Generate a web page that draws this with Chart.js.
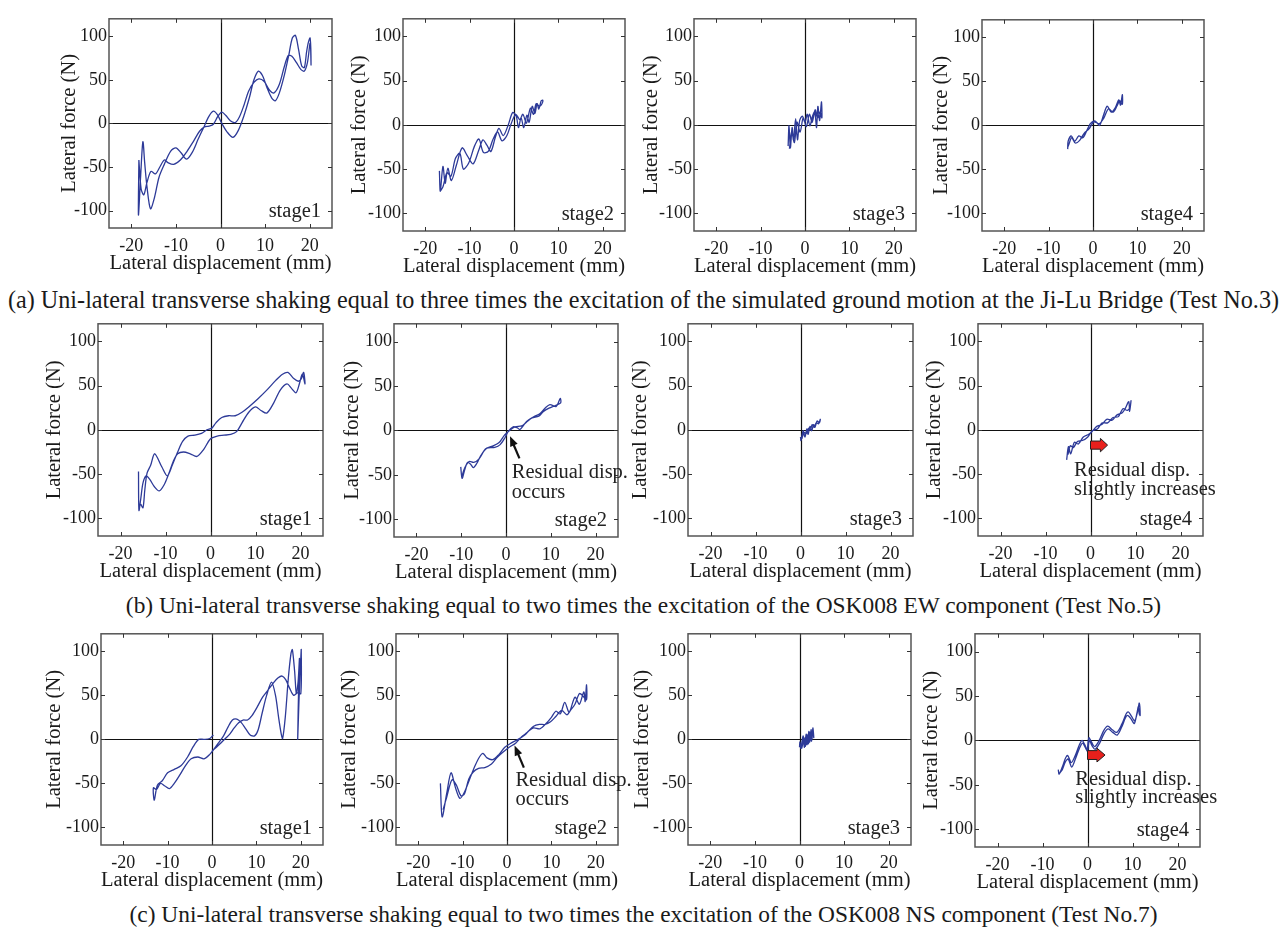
<!DOCTYPE html>
<html>
<head>
<meta charset="utf-8">
<script src="https://cdn.jsdelivr.net/npm/chart.js@4.4.1/dist/chart.umd.min.js"></script>
<style>
  body { margin: 0; background: #fff; }
  #fig { position: relative; width: 1287px; height: 934px; overflow: hidden; background: #fff; }
  .caption { position: absolute; left: 0; width: 1287px; text-align: center; white-space: nowrap;
             font-family: "Liberation Serif", "Times New Roman", serif; font-size: 23.4px; color: #1a1a1a; }
</style>
</head>
<body>
<div id="fig">
  <div class="caption" style="top:286px;font-size:24.2px">(a) Uni-lateral transverse shaking equal to three times the excitation of the simulated ground motion at the Ji-Lu Bridge (Test No.3)</div>
  <div class="caption" style="top:592px">(b) Uni-lateral transverse shaking equal to two times the excitation of the OSK008 EW component (Test No.5)</div>
  <div class="caption" style="top:901px">(c) Uni-lateral transverse shaking equal to two times the excitation of the OSK008 NS component (Test No.7)</div>
</div>
<script>
const SERIF = '"Liberation Serif", "Times New Roman", serif';
const LINE_COLOR = '#2d3a98';

// axis ticks shared by every panel
const dispTicks = [-20, -10, 0, 10, 20];
const forceTicks = [-100, -50, 0, 50, 100];
const stageNames = ['stage1', 'stage2', 'stage3', 'stage4'];

// Test No.3 loops, [displacement mm, force N]
const test3Stage1 = [[-18.3,-42],[-18.4,-105],[-17.9,-60],[-17.4,-21],[-17.0,-45],[-16.5,-72],[-15.7,-98],[-14.8,-85],[-13.8,-62],[-12.6,-47],[-11.2,-32],[-10.0,-28],[-8.8,-34],[-7.6,-41],[-6.3,-33],[-5.0,-18],[-3.8,-5],[-2.6,8],[-1.6,14],[-0.7,10],[0.3,0],[1.5,-10],[2.8,-16],[4.0,-8],[5.2,8],[6.5,30],[7.5,50],[8.5,60],[9.4,55],[10.5,40],[11.5,29],[12.3,26],[13.2,35],[14.3,55],[15.3,78],[16.1,98],[16.8,101],[17.5,85],[18.2,66],[18.8,64],[19.3,82],[19.7,93],[20.1,98],[20.3,67],
  [20.1,92],[19.5,70],[18.8,60],[18.0,62],[17.0,70],[16.0,77],[15.2,78],[14.3,65],[13.2,45],[12.0,35],[11.0,38],[9.8,48],[8.6,51],[7.5,47],[6.3,37],[5.2,20],[4.2,7],[3.3,1],[2.2,3],[1.2,9],[0.3,13],[-0.6,8],[-1.6,-1],[-2.6,-3],[-3.6,-4],[-4.7,-9],[-6.0,-20],[-7.5,-32],[-9.0,-42],[-10.5,-47],[-11.8,-45],[-12.6,-42],[-13.6,-50],[-14.6,-58],[-15.6,-55],[-16.5,-68],[-17.2,-82],[-17.8,-75],[-18.3,-42]];
const test3Stage2 = [[-16.8,-52],[-16.6,-75],[-16.0,-47],[-15.5,-66],[-14.9,-49],[-14.1,-63],[-13.0,-46],[-11.7,-26],[-10.5,-35],[-9.2,-44],[-7.9,-28],[-7.0,-17],[-6.1,-23],[-5.2,-30],[-4.2,-14],[-3.4,-4],[-2.4,-12],[-1.3,0],[-0.3,14],[0.5,10],[1.0,-3],[1.6,8],[2.2,-3],[2.9,11],[3.4,3],[4.1,21],[4.7,13],[5.2,24],[5.6,18],[6.1,27],[6.5,28],
  [6.3,24],[5.8,21],[5.0,24],[4.4,12],[3.7,19],[2.8,2],[2.0,12],[1.3,6],[0.4,12],[-0.6,2],[-1.6,-12],[-2.7,-18],[-3.7,-8],[-4.7,-16],[-5.8,-30],[-6.9,-31],[-7.9,-16],[-8.9,-24],[-10.2,-43],[-11.4,-50],[-12.2,-32],[-13.2,-38],[-14.2,-58],[-15.1,-54],[-16.0,-70],[-16.6,-75]];
const test3Stage3 = [[-3.8,-24],[-3.6,-1],[-3.3,-26],[-2.9,-3],[-2.6,-17],[-2.1,7],[-1.7,-17],[-1.2,5],[-0.6,10],[0.0,3],[0.5,12],[1.1,-1],[1.7,10],[2.2,15],[2.6,-3],[2.9,21],[3.3,5],[3.7,26],[3.8,8],
  [3.4,15],[2.8,8],[2.3,17],[1.6,3],[1.0,12],[0.3,-2],[-0.4,8],[-1.1,-8],[-1.8,3],[-2.4,-20],[-3.0,-8],[-3.5,-27]];
const test3Stage4 = [[-5.7,-27],[-5.6,-18],[-4.9,-12],[-4.1,-18],[-3.2,-12],[-2.3,-14],[-1.4,-6],[-0.6,2],[0.3,5],[0.9,3],[1.5,0],[2.4,12],[3.2,22],[4.1,15],[5.0,20],[5.8,29],[6.2,23],[6.6,35],
  [6.6,24],[6.0,28],[5.4,22],[4.5,15],[3.5,19],[2.4,8],[1.4,2],[0.2,4],[-0.9,-4],[-2.0,-9],[-3.0,-17],[-4.0,-20],[-4.8,-14],[-5.4,-21],[-5.7,-25]];

// Test No.5 loops
const test5Stage1 = [[-16.0,-47],[-15.9,-91],[-15.5,-78],[-15.0,-60],[-14.3,-52],[-13.5,-56],[-12.5,-64],[-11.4,-69],[-10.3,-62],[-9.3,-50],[-8.3,-36],[-7.3,-27],[-6.0,-25],[-4.5,-27],[-3.0,-30],[-1.5,-22],[0.0,-10],[1.5,-7],[3.0,-6],[4.5,-5],[5.8,-2],[7.0,8],[8.5,20],[10.0,26],[11.2,22],[12.5,19],[14.0,30],[15.5,45],[17.0,52],[18.0,47],[19.0,42],[19.8,53],[20.4,63],[21.0,52],
  [20.7,65],[20.2,58],[19.5,55],[18.5,58],[17.2,65],[16.0,63],[14.5,56],[12.5,45],[10.5,35],[8.5,26],[7.0,20],[5.5,16],[4.0,16],[2.5,14],[1.2,8],[0.3,2],[-0.8,0],[-2.0,-4],[-3.5,-6],[-5.0,-7],[-6.2,-13],[-7.3,-25],[-8.5,-40],[-9.6,-52],[-10.8,-42],[-12.4,-27],[-13.3,-40],[-14.1,-49],[-14.6,-68],[-15.0,-88],[-15.5,-84]];
const test5Stage2 = [[-10.1,-41],[-9.8,-54],[-9.2,-44],[-8.6,-36],[-7.9,-38],[-7.3,-42],[-6.5,-37],[-5.8,-30],[-4.3,-20],[-2.5,-19],[-1.3,-16],[-0.2,-8],[0.5,-1],[1.6,4],[2.5,3],[3.1,1],[4.6,10],[6.1,15],[7.6,19],[8.7,25],[9.8,29],[11.2,27],[12.1,36],[12.2,31],
  [11.0,28],[9.6,25],[8.3,21],[7.3,16],[5.8,14],[4.5,9],[3.5,5],[2.0,4],[0.8,0],[-0.3,-5],[-1.6,-14],[-3.2,-18],[-4.6,-21],[-6.0,-32],[-7.2,-36],[-8.2,-35],[-9.2,-42],[-9.8,-51]];
const test5Stage3 = [[0.0,-8],[0.1,-12],[0.6,-1],[1.0,-8],[1.4,1],[1.7,-5],[2.1,4],[2.5,-1],[2.9,6],[3.2,3],[3.7,10],[4.2,8],[4.4,12],
  [4.0,7],[3.5,8],[3.0,3],[2.6,6],[2.2,0],[1.8,2],[1.3,-4],[0.8,-3],[0.3,-10]];
const test5Stage4 = [[-5.3,-34],[-4.9,-19],[-4.4,-27],[-3.6,-14],[-2.7,-16],[-1.6,-8],[-0.4,-5],[0.3,-2],[1.4,4],[2.5,6],[3.6,12],[4.8,11],[5.9,17],[7.0,19],[7.7,24],[8.5,32],[8.7,21],[9.0,33],
  [8.8,26],[8.2,22],[7.2,24],[6.2,15],[5.0,14],[3.8,8],[2.6,8],[1.5,1],[0.4,-1],[-0.6,-8],[-1.8,-12],[-2.9,-13],[-3.8,-20],[-4.5,-18],[-5.0,-28]];

// Test No.7 loops
const test7Stage1 = [[0.3,5],[-0.5,1],[-1.8,0],[-3.0,0],[-4.2,-8],[-5.5,-20],[-7.0,-30],[-8.5,-34],[-10.0,-38],[-11.2,-47],[-12.3,-52],[-13.0,-69],[-13.2,-55],[-12.5,-57],[-11.6,-50],[-10.6,-53],[-9.6,-56],[-8.5,-50],[-7.2,-40],[-6.0,-30],[-4.7,-22],[-3.2,-20],[-1.8,-22],[-0.5,-17],[0.6,-10],[1.6,-3],[2.6,4],[3.6,14],[4.6,22],[5.6,23],[6.6,19],[7.6,12],[8.6,5],[9.6,4],[10.4,11],[11.3,30],[12.3,50],[13.4,65],[14.3,50],[15.0,25],[15.6,6],[15.9,1],[16.5,25],[17.2,70],[17.8,98],[18.1,102],[18.6,78],[19.0,52],[19.4,66],[19.7,92],[19.5,55],[19.3,0],[19.6,45],[20.0,92],[20.1,102],[20.0,52],
  [19.2,53],[18.4,50],[17.5,58],[16.6,68],[15.8,72],[14.9,70],[13.8,64],[12.6,56],[11.4,48],[10.2,37],[9.0,27],[8.0,22],[7.0,22],[6.0,19],[5.0,13],[4.0,6],[3.0,1],[2.0,-4],[1.0,-9],[0.0,-13]];
const test7Stage2 = [[-15.0,-50],[-14.6,-88],[-13.6,-62],[-12.6,-38],[-11.6,-55],[-10.6,-67],[-9.6,-60],[-8.4,-45],[-7.2,-30],[-6.2,-20],[-5.4,-16],[-4.5,-21],[-3.2,-23],[-1.8,-17],[-0.5,-9],[1.0,-4],[2.5,0],[4.0,5],[5.0,10],[6.0,13],[7.4,12],[8.8,18],[10.0,25],[11.0,32],[12.0,29],[13.0,42],[14.0,31],[15.3,48],[16.3,40],[17.3,54],[17.6,43],[17.9,62],[17.9,45],
  [17.0,50],[16.3,52],[15.3,40],[14.3,33],[13.5,28],[12.3,33],[11.0,26],[9.8,20],[8.6,17],[7.3,17],[6.0,15],[4.6,8],[3.3,3],[2.0,-4],[0.5,-9],[-1.0,-15],[-2.3,-21],[-3.5,-28],[-5.0,-32],[-6.4,-33],[-7.6,-37],[-8.6,-45],[-9.6,-62],[-10.4,-64],[-11.4,-52],[-12.4,-46],[-13.6,-66],[-14.4,-80]];
const test7Stage3 = [[0.0,-9],[0.1,-3],[0.3,-10],[0.8,4],[1.1,-9],[1.5,6],[1.7,-6],[2.1,9],[2.3,-3],[2.6,11],[2.8,0],[3.0,13],[3.2,2],
  [3.0,10],[2.7,-2],[2.4,8],[2.0,-5],[1.8,5],[1.3,-8],[1.0,2],[0.5,-10],[0.2,-6]];
const test7Stage4 = [[-6.5,-33],[-6.3,-38],[-5.6,-30],[-4.9,-20],[-4.4,-17],[-3.6,-25],[-2.8,-18],[-1.8,-5],[-1.2,0],[-0.6,-5],[-0.1,-10],[0.3,3],[0.9,-2],[1.6,-7],[2.6,0],[3.6,11],[4.5,16],[5.5,12],[6.5,9],[7.6,18],[8.6,30],[9.1,32],[9.8,27],[10.5,22],[11.2,34],[11.5,42],[11.7,28],
  [11.5,30],[11.3,38],[11.0,31],[10.4,19],[9.7,24],[9.0,28],[8.5,26],[7.6,15],[6.6,6],[5.6,9],[4.6,13],[3.7,8],[2.7,-3],[1.7,-10],[1.0,-6],[0.4,0],[0.0,-12],[-0.5,-8],[-1.1,-3],[-1.8,-9],[-2.7,-21],[-3.5,-30],[-4.3,-21],[-4.9,-24],[-5.6,-33],[-6.2,-37]];

// annotations, placed in data units of their own panel
const occursNote = tip => ({ type: 'pointer', tail: [tip[0] + 2.1, tip[1] - 25], tip, text: ['Residual disp.', 'occurs'] });
const increaseNote = { type: 'block', text: ['Residual disp.', 'slightly increases'] };

// plot-area boxes on the page [left, top, right, bottom]; gap = y title distance
const panels = [
  { pts: test3Stage1, stage: 0, box: [109, 10, 332, 228], gap: 39 },
  { pts: test3Stage2, stage: 1, box: [403, 10, 625, 231], gap: 43 },
  { pts: test3Stage3, stage: 2, box: [694, 10, 916, 231], gap: 42 },
  { pts: test3Stage4, stage: 3, box: [982, 11, 1204, 231], gap: 40 },
  { pts: test5Stage1, stage: 0, box: [98, 315, 323, 536], gap: 43 },
  { pts: test5Stage2, stage: 1, box: [394, 315, 618, 537], gap: 41,
    note: Object.assign(occursNote([0.9, -6.5]), { textAt: [1.3, -54, -76] }) },
  { pts: test5Stage3, stage: 2, box: [688, 315, 913, 536], gap: 47 },
  { pts: test5Stage4, stage: 3, box: [978, 315, 1203, 536], gap: 43,
    note: Object.assign({}, increaseNote, { xs: [0, 2.2, 3.8], yc: -17.2, body: 4.6, head: 7.6, textAt: [-3.65, -52, -74] }) },
  { pts: test7Stage1, stage: 0, box: [101, 625, 323, 845], gap: 46 },
  { pts: test7Stage2, stage: 1, box: [396, 625, 618, 845], gap: 46,
    note: Object.assign(occursNote([1.7, -7]), { textAt: [1.9, -52.5, -75] }) },
  { pts: test7Stage3, stage: 2, box: [688, 625, 911, 845], gap: 45 },
  { pts: test7Stage4, stage: 3, box: [975, 625, 1200, 847], gap: 43,
    note: Object.assign({}, increaseNote, { xs: [0, 2.1, 3.9], yc: -16.5, body: 5, head: 7.8, textAt: [-2.7, -50, -71] }) }
];

const AXIS_W = 62, AXIS_H = 50, PAD_T = 4, PAD_R = 40;
const TICK_SIZE = 18, TITLE_SIZE = 20.5, NOTE_SIZE = 20.5;

// frame, zero lines, inward ticks, stage tag and annotations
const framePlugin = {
  id: 'frame',
  beforeDatasetsDraw(chart) {
    const { ctx, chartArea: a, scales: { x, y } } = chart;
    const x0 = Math.round(x.getPixelForValue(0)) + 0.5;
    const y0 = Math.round(y.getPixelForValue(0)) + 0.5;
    ctx.save();
    ctx.strokeStyle = '#111';
    ctx.lineWidth = 1.2;
    ctx.beginPath();
    ctx.moveTo(x0, a.top); ctx.lineTo(x0, a.bottom);
    ctx.moveTo(a.left, y0); ctx.lineTo(a.right, y0);
    ctx.stroke();
    ctx.restore();
  },
  afterDatasetsDraw(chart, args, opts) {
    const { ctx, chartArea: a, scales: { x, y } } = chart;
    ctx.save();
    ctx.strokeStyle = '#555';
    ctx.lineWidth = 1.5;
    ctx.strokeRect(a.left, a.top, a.right - a.left, a.bottom - a.top);

    ctx.lineWidth = 1;
    ctx.strokeStyle = '#333';
    ctx.beginPath();
    x.ticks.forEach(t => {
      const px = Math.round(x.getPixelForValue(t.value)) + 0.5;
      ctx.moveTo(px, a.bottom); ctx.lineTo(px, a.bottom - 4);
      ctx.moveTo(px, a.top); ctx.lineTo(px, a.top + 4);
    });
    y.ticks.forEach(t => {
      const py = Math.round(y.getPixelForValue(t.value)) + 0.5;
      ctx.moveTo(a.left, py); ctx.lineTo(a.left + 4, py);
      ctx.moveTo(a.right, py); ctx.lineTo(a.right - 4, py);
    });
    ctx.stroke();

    ctx.fillStyle = '#222';
    ctx.font = NOTE_SIZE + 'px ' + SERIF;
    ctx.textAlign = 'right';
    ctx.textBaseline = 'alphabetic';
    ctx.fillText(opts.stage, a.right - 11, a.bottom - 11);

    const n = opts.note;
    if (n) {
      if (n.type === 'pointer') {
        const tx = x.getPixelForValue(n.tail[0]), ty = y.getPixelForValue(n.tail[1]);
        const hx = x.getPixelForValue(n.tip[0]), hy = y.getPixelForValue(n.tip[1]);
        const ang = Math.atan2(hy - ty, hx - tx);
        ctx.strokeStyle = '#111';
        ctx.fillStyle = '#111';
        ctx.lineWidth = 2.2;
        ctx.beginPath();
        ctx.moveTo(tx, ty);
        ctx.lineTo(hx - 6 * Math.cos(ang), hy - 6 * Math.sin(ang));
        ctx.stroke();
        ctx.beginPath();
        ctx.moveTo(hx, hy);
        ctx.lineTo(hx - 10 * Math.cos(ang) + 4 * Math.sin(ang), hy - 10 * Math.sin(ang) - 4 * Math.cos(ang));
        ctx.lineTo(hx - 10 * Math.cos(ang) - 4 * Math.sin(ang), hy - 10 * Math.sin(ang) + 4 * Math.cos(ang));
        ctx.closePath();
        ctx.fill();
      } else {
        const [p0, p1, p2] = n.xs.map(v => x.getPixelForValue(v));
        const yc = y.getPixelForValue(n.yc);
        const bh = y.getPixelForValue(n.yc - n.body) - yc;
        const hh = y.getPixelForValue(n.yc - n.head) - yc;
        ctx.beginPath();
        ctx.moveTo(p0, yc - bh);
        ctx.lineTo(p1, yc - bh);
        ctx.lineTo(p1, yc - hh);
        ctx.lineTo(p2, yc);
        ctx.lineTo(p1, yc + hh);
        ctx.lineTo(p1, yc + bh);
        ctx.lineTo(p0, yc + bh);
        ctx.closePath();
        ctx.fillStyle = '#e8201c';
        ctx.fill();
        ctx.strokeStyle = '#222';
        ctx.lineWidth = 1;
        ctx.stroke();
      }
      ctx.fillStyle = '#222';
      ctx.textAlign = 'left';
      const lx = x.getPixelForValue(n.textAt[0]);
      n.text.forEach((s, i) => ctx.fillText(s, lx, y.getPixelForValue(n.textAt[i + 1])));
    }
    ctx.restore();
  }
};

const fig = document.getElementById('fig');
panels.forEach(p => {
  const [L, T, R, B] = p.box;
  const w = R - L + AXIS_W + PAD_R;
  const h = B - T + PAD_T + AXIS_H;
  const canvas = document.createElement('canvas');
  canvas.width = w;
  canvas.height = h;
  canvas.style.cssText = `position:absolute;left:${L - AXIS_W}px;top:${T - PAD_T}px;width:${w}px;height:${h}px`;
  fig.appendChild(canvas);

  new Chart(canvas, {
    type: 'scatter',
    data: {
      datasets: [{
        data: p.pts.map(([dx, f]) => ({ x: dx, y: f })),
        showLine: true,
        borderColor: LINE_COLOR,
        borderWidth: 1.3,
        pointRadius: 0,
        tension: 0.3
      }]
    },
    options: {
      responsive: false,
      animation: false,
      events: [],
      layout: { padding: { left: 0, top: PAD_T, right: PAD_R, bottom: 0 } },
      plugins: {
        legend: { display: false },
        tooltip: { enabled: false },
        frame: { stage: stageNames[p.stage], note: p.note }
      },
      scales: {
        x: {
          type: 'linear', min: -25, max: 25,
          afterBuildTicks: s => { s.ticks = dispTicks.map(v => ({ value: v })); },
          afterFit: s => { s.height = AXIS_H; },
          ticks: { font: { family: SERIF, size: TICK_SIZE }, color: '#1a1a1a', padding: 7, maxRotation: 0 },
          grid: { display: false, drawTicks: false },
          border: { display: false },
          title: { display: true, text: 'Lateral displacement (mm)', color: '#1a1a1a',
                   font: { family: SERIF, size: TITLE_SIZE }, padding: { top: 0, bottom: 2 } }
        },
        y: {
          type: 'linear', min: -120, max: 120,
          afterBuildTicks: s => { s.ticks = forceTicks.map(v => ({ value: v })); },
          afterFit: s => { s.width = AXIS_W; },
          ticks: { font: { family: SERIF, size: TICK_SIZE }, color: '#1a1a1a', padding: 2 },
          grid: { display: false, drawTicks: false },
          border: { display: false },
          title: { display: true, text: 'Lateral force (N)', color: '#1a1a1a',
                   font: { family: SERIF, size: TITLE_SIZE }, padding: { top: AXIS_W - p.gap - TITLE_SIZE * 0.6, bottom: 0 } }
        }
      }
    },
    plugins: [framePlugin]
  });
});
</script>
</body>
</html>
